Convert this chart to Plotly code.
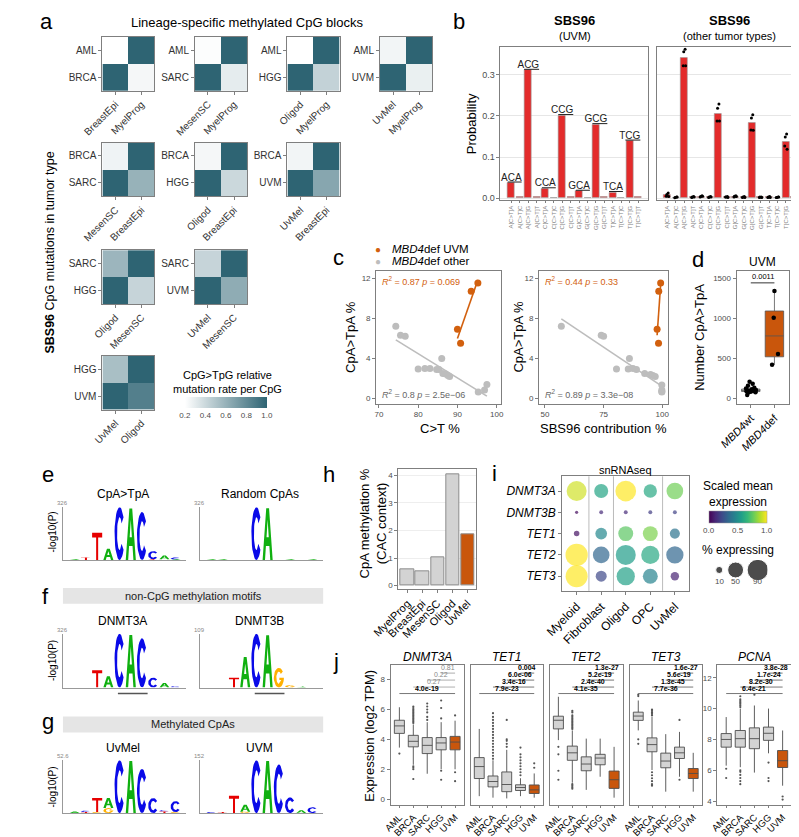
import numpy as np
import plotly.graph_objects as go

W, H = 799, 837
FONT = "Liberation Sans, Arial, Helvetica, sans-serif"
ORANGE = "#C9560C"
ORANGE_PT = "#D2600E"
GRAYPT = "#BDBDBD"
RED = "#E32B2B"
BOXGRAY = "#D3D3D3"
FRAME = "#7F7F7F"
TICKC = "#4D4D4D"

# ---------------- DATA ----------------
# panel a: 2x2 heatmaps (rows top->bottom, cols left->right)
HM_ROWS = [["AML", "BRCA"], ["AML", "SARC"], ["AML", "HGG"], ["AML", "UVM"],
           ["BRCA", "SARC"], ["BRCA", "HGG"], ["BRCA", "UVM"],
           ["SARC", "HGG"], ["SARC", "UVM"], ["HGG", "UVM"]]
HM_COLS = [["BreastEpi", "MyelProg"], ["MesenSC", "MyelProg"], ["Oligod", "MyelProg"], ["UvMel", "MyelProg"],
           ["MesenSC", "BreastEpi"], ["Oligod", "BreastEpi"], ["UvMel", "BreastEpi"],
           ["Oligod", "MesenSC"], ["UvMel", "MesenSC"], ["UvMel", "Oligod"]]
HM_VALS = [[[0.20, 1.0], [1.0, 0.24]], [[0.21, 1.0], [1.0, 0.30]], [[0.20, 1.0], [1.0, 0.43]],
           [[0.25, 1.0], [1.0, 0.28]], [[0.26, 1.0], [1.0, 0.60]], [[0.24, 1.0], [1.0, 0.40]],
           [[0.25, 1.0], [1.0, 0.66]], [[0.58, 1.0], [1.0, 0.42]], [[0.42, 1.0], [1.0, 0.63]],
           [[0.53, 1.0], [1.0, 0.86]]]
HM_TICKS = [0.2, 0.4, 0.6, 0.8, 1.0]

# panel b
CTX = ["A[C>T]A", "A[C>T]C", "A[C>T]G", "A[C>T]T", "C[C>T]A", "C[C>T]C", "C[C>T]G", "C[C>T]T",
       "G[C>T]A", "G[C>T]C", "G[C>T]G", "G[C>T]T", "T[C>T]A", "T[C>T]C", "T[C>T]G", "T[C>T]T"]
UVM_PROB = [0.037, 0.003, 0.311, 0.003, 0.023, 0.002, 0.201, 0.004,
            0.017, 0.002, 0.179, 0.003, 0.014, 0.002, 0.139, 0.004]
BAR_LABELS = {0: "A<u>CA</u>", 2: "A<u>CG</u>", 4: "C<u>CA</u>", 6: "C<u>CG</u>",
              8: "G<u>CA</u>", 10: "G<u>CG</u>", 12: "T<u>CA</u>", 14: "T<u>CG</u>"}
OTH_PROB = [0.009, 0.002, 0.341, 0.003, 0.004, 0.003, 0.205, 0.003,
            0.004, 0.003, 0.183, 0.003, 0.003, 0.002, 0.137, 0.003]
OTH_PTS = [[0.013, 0.009, 0.005, 0.004], [0.003, 0.002, 0.001, 0.003], [0.362, 0.356, 0.322, 0.322],
           [0.004, 0.003, 0.002, 0.003], [0.006, 0.004, 0.003, 0.005], [0.004, 0.003, 0.002, 0.003],
           [0.229, 0.219, 0.188, 0.188], [0.004, 0.003, 0.003, 0.002], [0.006, 0.005, 0.003, 0.004],
           [0.004, 0.003, 0.002, 0.002], [0.203, 0.195, 0.166, 0.165], [0.003, 0.003, 0.002, 0.002],
           [0.004, 0.003, 0.002, 0.002], [0.003, 0.002, 0.002, 0.003], [0.156, 0.149, 0.127, 0.119],
           [0.003, 0.003, 0.002, 0.002]]
JIT = [0.08, -0.08, -0.14, 0.14]

# panel c
C_UVM_CT = [90.0, 90.8, 93.5, 95.2]
C_UVM_CPA = [6.9, 5.5, 10.7, 11.5]
C_OTH_CT = [74.3, 75.5, 76.7, 80.0, 81.7, 83.0, 84.7, 85.3, 86.0, 86.3, 87.0, 87.6, 88.0, 95.3, 96.9, 97.5]
C_OTH_CPA = [7.2, 6.3, 6.2, 2.95, 3.0, 3.0, 2.9, 2.9, 4.0, 2.5, 2.45, 2.3, 2.2, 0.65, 0.85, 1.4]
C_UVM_SBS = [97.8, 98.4, 98.5, 99.3]
C_OTH_SBS = [57.0, 74.0, 75.0, 80.5, 85.5, 86.0, 87.5, 89.0, 92.5, 95.0, 96.0, 97.0, 99.8, 99.8, 99.8, 99.8]
C_OTH_CPA2 = [7.2, 6.3, 6.2, 2.95, 2.95, 4.0, 3.0, 2.9, 2.5, 2.4, 2.3, 2.2, 1.35, 0.85, 0.7, 0.65]
C_STATS_L = ["<i>R</i><sup>2</sup> = 0.87 <i>p</i> = 0.069", "<i>R</i><sup>2</sup> = 0.8 <i>p</i> = 2.5e\u221206"]
C_STATS_R = ["<i>R</i><sup>2</sup> = 0.44 <i>p</i> = 0.33", "<i>R</i><sup>2</sup> = 0.89 <i>p</i> = 3.3e\u221208"]

# panel d
D_GROUPS = ["<i>MBD4</i>wt", "<i>MBD4</i>def"]
D_BOX = [[75, 88, 100, 118, 150], [420, 520, 780, 1090, 1340]]  # lower, q1, med, q3, upper
D_WT_PTS = [210, 185, 160, 135, 125, 115, 108, 100, 95, 90, 85, 80, 75, 45]
D_WT_OFF = [-0.05, 0.08, -0.12, 0.15, -0.2, 0.05, 0.22, -0.08, 0.12, -0.18, 0.0, 0.2, -0.1, -0.15]
D_DEF_PTS = [420, 555, 1005, 1340]
D_DEF_OFF = [-0.1, 0.15, -0.03, 0.0]
D_P = "0.0011"

# panels e-g: sequence logos  (position, letter, height) stacked bottom->top
LOGO_TITLES = ["CpA>TpA", "Random CpAs", "DNMT3A", "DNMT3B", "UvMel", "UVM"]
LOGO_YMAX = [326, 326, 326, 109, 52.6, 152]
LOGO_YLBL = ["326", "326", "326", "109", "52.6", "152"]
LOGO_LETTERS = [
    [(2, "A", 5), (3, "T", 16), (4, "T", 168), (5, "A", 70), (6, "C", 326), (7, "A", 318), (8, "C", 296),
     (9, "T", 5), (9, "C", 50), (10, "T", 4), (10, "A", 24), (11, "A", 4), (11, "C", 12)],
    [(2, "A", 5), (3, "A", 5), (6, "C", 326), (7, "A", 320), (9, "A", 5), (11, "A", 4)],
    [(4, "T", 105), (5, "A", 68), (6, "C", 326), (7, "A", 318), (8, "C", 298), (9, "C", 60), (10, "A", 28), (11, "C", 8)],
    [(4, "T", 20), (5, "A", 62), (6, "C", 109), (7, "A", 106), (8, "G", 40), (9, "G", 5), (10, "A", 2)],
    [(2, "A", 1.5), (3, "T", 1), (3, "C", 1.5), (4, "G", 1), (4, "T", 14), (5, "G", 5), (5, "A", 10),
     (6, "C", 52.6), (7, "A", 52), (8, "C", 44), (9, "C", 15), (10, "T", 1.5), (10, "C", 1.5), (11, "G", 1), (11, "C", 11)],
    [(2, "C", 3), (3, "T", 3), (4, "T", 50), (5, "G", 4), (5, "A", 20), (6, "C", 152), (7, "A", 150),
     (8, "C", 140), (9, "C", 45), (10, "A", 8), (11, "C", 17)],
]
LETTER_COL = {"A": "#10B010", "C": "#0A0AE8", "G": "#FFB000", "T": "#E60000"}

# panel h
H_CELLS = ["MyelProg", "BreastEpi", "MesenSC", "Oligod", "UvMel"]
H_VALS = [0.6, 0.5, 1.02, 4.05, 1.85]

# panel i
I_CELLS = ["Myeloid", "Fibroblast", "Oligod", "OPC", "UvMel"]
I_GENES = ["DNMT3A", "DNMT3B", "TET1", "TET2", "TET3"]
I_EXPR = [[0.93, 0.58, 1.0, 0.6, 0.78], [0.03, 0.12, 0.12, 0.18, 0.2], [0.05, 0.47, 0.74, 0.8, 0.38],
          [1.0, 0.33, 0.55, 0.6, 0.33], [1.0, 0.22, 0.57, 0.45, 0.1]]
I_PCT = [[79, 39, 85, 35, 55], [2, 3, 3, 3, 3], [6, 27, 44, 44, 20], [98, 55, 79, 66, 59], [96, 24, 66, 44, 14]]
I_LEG_PCT = [10, 50, 90]

# panel j
J_GENES = ["DNMT3A", "TET1", "TET2", "TET3", "PCNA"]
J_GROUPS = ["AML", "BRCA", "SARC", "HGG", "UVM"]
# lowerfence, q1, median, q3, upperfence
J_STATS = [
    [[3.45, 4.4, 4.9, 5.28, 6.15], [2.3, 3.5, 3.87, 4.27, 5.0], [1.7, 3.05, 3.6, 4.12, 5.15], [2.0, 3.3, 3.76, 4.12, 5.15], [2.0, 3.3, 3.82, 4.2, 5.25]],
    [[0.2, 1.38, 2.18, 2.78, 4.7], [0.1, 0.82, 1.18, 1.55, 2.6], [0.05, 0.5, 0.98, 1.82, 3.3], [0.2, 0.58, 0.78, 0.96, 1.4], [0.1, 0.38, 0.62, 0.95, 1.72]],
    [[3.95, 4.7, 5.28, 5.55, 6.85], [1.1, 2.6, 3.1, 3.55, 4.6], [0.62, 1.9, 2.35, 2.83, 4.05], [1.5, 2.3, 2.75, 3.0, 4.05], [0.1, 0.72, 1.3, 1.88, 3.5]],
    [[4.6, 5.27, 5.56, 5.82, 6.6], [1.95, 3.17, 3.65, 4.1, 5.5], [0.5, 2.1, 2.55, 3.08, 4.35], [1.5, 2.72, 3.1, 3.48, 4.5], [0.5, 1.38, 1.72, 2.05, 3.1]],
    [[6.3, 7.5, 8.0, 8.38, 9.45], [6.2, 7.5, 8.05, 8.58, 10.0], [5.85, 7.4, 8.05, 8.75, 10.2], [7.1, 7.94, 8.4, 8.8, 10.0], [5.0, 6.18, 6.62, 7.28, 8.58]],
]
J_OUT = [
    [[3.05], [5.1, 5.2, 5.3, 5.4, 5.5, 5.6, 5.7, 5.8, 5.9, 6.0, 6.1, 6.2, 2.2, 2.1, 2.0, 1.35], [5.3, 5.5, 5.8, 6.0, 6.2, 6.4], [5.4, 6.1, 6.6, 1.9, 1.3], [5.6, 1.8, 1.2]],
    [[], [2.7, 2.9, 3.1, 3.3, 3.5, 3.7, 3.9, 4.1, 4.3, 4.5, 4.7, 4.9, 5.1, 5.3, 5.5, 5.75], [3.5, 3.7, 3.9, 4.0, 5.3], [1.6, 1.8, 2.0, 2.2, 2.4, 2.6, 2.8, 3.0, 3.45], [2.1, 2.4]],
    [[3.5, 3.0, 1.9, 1.3], [4.7, 4.8, 4.9, 5.0, 5.1, 5.2, 5.3, 5.4, 5.5, 5.6, 5.8, 5.9, 1.0, 0.9, 0.8, 0.7], [], [], []],
    [[6.9, 7.0, 4.0, 3.7], [5.6, 5.7, 5.8, 5.9, 6.0, 1.8, 1.6, 1.4, 1.2, 1.0, 0.9], [], [5.3, 1.3], []],
    [[6.1, 5.5], [10.1, 10.2, 10.3, 10.4, 10.5, 10.6, 10.8, 6.0, 5.9, 5.7, 5.5, 5.3, 5.1], [10.9], [6.5, 5.5, 5.3], [4.3, 4.1]],
]
J_PV = [["4.0e-19", "0.27", "0.22", "0.81"], ["7.9e-23", "3.4e-16", "6.0e-06", "0.004"],
        ["4.1e-35", "2.4e-40", "5.2e-19", "1.3e-27"], ["7.7e-36", "1.3e-45", "5.6e-19", "1.6e-27"],
        ["6.4e-21", "8.2e-30", "1.7e-24", "3.8e-28"]]
J_SIG = [[True, False, False, False]] + [[True] * 4] * 4

# ---------------- helpers ----------------
fig = go.Figure()
LAY = {}
ANN = []
SHP = []
NAX = [0]


def base_axis():
    return dict(showgrid=False, zeroline=False, showline=True, mirror=True,
                linecolor=FRAME, linewidth=1, ticks="outside", ticklen=3,
                tickcolor=FRAME, tickwidth=1,
                tickfont=dict(size=8, color=TICKC, family=FONT))


def axes(x0, x1, y0, y1, xa=None, ya=None):
    NAX[0] += 1
    s = "" if NAX[0] == 1 else str(NAX[0])
    bx = base_axis()
    bx.update(domain=[x0 / W, x1 / W], anchor="y" + s)
    by = base_axis()
    by.update(domain=[1 - y1 / H, 1 - y0 / H], anchor="x" + s)
    if xa:
        bx.update(xa)
    if ya:
        by.update(ya)
    LAY["xaxis" + s] = bx
    LAY["yaxis" + s] = by
    return "x" + s, "y" + s


def txt(x, y, s, size=10, color="black", xa="center", ya="middle", angle=0, xref="paper", yref="paper"):
    ANN.append(dict(x=x / W if xref == "paper" else x, y=1 - y / H if yref == "paper" else y,
                    xref=xref, yref=yref, text=s, showarrow=False,
                    font=dict(size=size, color=color, family=FONT),
                    xanchor=xa, yanchor=ya, textangle=angle))


def tf(size, color="black"):
    return dict(size=size, color=color, family=FONT)


# ---------------- panel a ----------------
txt(3, 14, "a", 22, xa="left")
txt(220, 15, "Lineage-specific methylated CpG blocks", 13)
txt(16, 245, "<b>SBS96</b> CpG mutations in tumor type", 12.5, angle=-90)
slots = [(70, 29), (166, 29), (262, 29), (358, 29), (70, 135), (166, 135), (262, 135), (70, 243), (166, 243), (70, 349)]
for k in range(10):
    x0, y0 = slots[k]
    xa_, ya_ = axes(x0, x0 + 54, y0, y0 + 54,
                    xa=dict(tickangle=-45, tickfont=tf(10, "#333")),
                    ya=dict(tickfont=tf(10, "#333")))
    top, bot = HM_ROWS[k]
    fig.add_trace(go.Heatmap(x=HM_COLS[k], y=[bot, top], z=[HM_VALS[k][1], HM_VALS[k][0]],
                             coloraxis="coloraxis", xaxis=xa_, yaxis=ya_, hoverinfo="skip"))
txt(200, 375, "CpG>TpG relative<br>mutation rate per CpG", 11)

# ---------------- panel b ----------------
txt(440, 14, "b", 22)
txt(560, 13, "<b>SBS96</b>", 13)
txt(560, 28, "(UVM)", 11)
txt(721, 13, "<b>SBS96</b>", 13)
txt(721, 28, "(other tumor types)", 11)
txt(453, 116, "Probability", 13, angle=-90)
bxa = dict(range=[-1.29, 16.14], tickvals=list(range(16)), ticktext=CTX, tickangle=-90,
           tickfont=tf(6, "#808080"), ticklen=2)
bya = dict(range=[-0.005, 0.368], tickvals=[0, 0.1, 0.2, 0.3], ticktext=["0.0", "0.1", "0.2", "0.3"],
           showgrid=True, gridcolor="#E6E6E6", gridwidth=0.8, tickfont=tf(9, TICKC))
xb1, yb1 = axes(483, 636, 39, 193, xa=dict(bxa), ya=dict(bya))
xb2, yb2 = axes(645, 798, 39, 193, xa=dict(bxa), ya=dict(bya, showticklabels=False, ticks=""))
fig.add_trace(go.Bar(x=list(range(16)), y=UVM_PROB, width=0.83, xaxis=xb1, yaxis=yb1,
                     marker=dict(color=RED, line=dict(color="#9A9A9A", width=0.6)), hoverinfo="skip"))
lab_idx = sorted(BAR_LABELS)
fig.add_trace(go.Scatter(x=lab_idx, y=[UVM_PROB[i] for i in lab_idx], mode="text",
                         text=[BAR_LABELS[i] for i in lab_idx], textposition="top center",
                         textfont=tf(10, "#222"), xaxis=xb1, yaxis=yb1, hoverinfo="skip", cliponaxis=False))
fig.add_trace(go.Bar(x=list(range(16)), y=OTH_PROB, width=0.83, xaxis=xb2, yaxis=yb2,
                     marker=dict(color=RED, line=dict(color="#9A9A9A", width=0.6)), hoverinfo="skip"))
px_, py_ = [], []
for i, pts in enumerate(OTH_PTS):
    for j, v in enumerate(pts):
        px_.append(i + JIT[j])
        py_.append(v)
fig.add_trace(go.Scatter(x=px_, y=py_, mode="markers", xaxis=xb2, yaxis=yb2,
                         marker=dict(size=3, color="black"), hoverinfo="skip", cliponaxis=False))

# ---------------- panel c ----------------
txt(315, 250, "c", 22)
txt(356, 242, "\u25CF", 10, color=ORANGE_PT)
txt(368, 242, "<i>MBD4</i>def UVM", 11.5, xa="left")
txt(356, 254, "\u25CF", 10, color=GRAYPT)
txt(368, 254, "<i>MBD4</i>def other", 11.5, xa="left")


def scatter_panel(x0, x1, xr, xt, ox, oy, ux, uy, stats):
    xa_, ya_ = axes(x0, x1, 264, 397, xa=dict(range=xr, tickvals=xt),
                    ya=dict(range=[-0.5, 12.7], tickvals=[0, 4, 8, 12]))
    for xs, ys, col in [(ox, oy, GRAYPT), (ux, uy, ORANGE_PT)]:
        sl, ic = np.polyfit(xs, ys, 1)
        lx = np.array([min(xs), max(xs)])
        fig.add_trace(go.Scatter(x=lx, y=sl * lx + ic, mode="lines", xaxis=xa_, yaxis=ya_,
                                 line=dict(color=col, width=1.6), hoverinfo="skip"))
        fig.add_trace(go.Scatter(x=xs, y=ys, mode="markers", xaxis=xa_, yaxis=ya_,
                                 marker=dict(size=7, color=col), hoverinfo="skip"))
    txt(x0 + 4, 274, stats[0], 9, color=ORANGE_PT, xa="left")
    txt(x0 + 4, 387, stats[1], 9, color="#666", xa="left")


scatter_panel(354, 484, [69.3, 101.2], [70, 80, 90, 100], C_OTH_CT, C_OTH_CPA, C_UVM_CT, C_UVM_CPA, C_STATS_L)
scatter_panel(523, 657, [47.5, 102.5], [50, 75, 100], C_OTH_SBS, C_OTH_CPA2, C_UVM_SBS, C_UVM_CPA, C_STATS_R)
txt(328, 330, "CpA>TpA %", 13, angle=-90)
txt(420, 422, "C>T %", 13)
txt(502, 330, "CpA>TpA %", 13, angle=-90)
txt(590, 422, "SBS96 contribution %", 13)

# ---------------- panel d ----------------
txt(688, 252, "d", 22)
txt(755, 255, "UVM", 12)
txt(690, 330, "Number CpA>TpA", 13, angle=-90)
xd, yd = axes(728, 782, 264, 397,
              xa=dict(range=[-0.6, 1.6], tickvals=[0, 1], ticktext=D_GROUPS, tickangle=-45, tickfont=tf(11)),
              ya=dict(range=[-62, 1587], tickvals=[0, 500, 1000, 1500]))
for i, st in enumerate(D_BOX):
    fig.add_trace(go.Box(x=[i], lowerfence=[st[0]], q1=[st[1]], median=[st[2]], q3=[st[3]], upperfence=[st[4]],
                         width=0.78, whiskerwidth=0, fillcolor=BOXGRAY if i == 0 else ORANGE,
                         line=dict(color="#555", width=0.8), xaxis=xd, yaxis=yd, hoverinfo="skip"))
fig.add_trace(go.Scatter(x=[o for o in D_WT_OFF] + [1 + o for o in D_DEF_OFF], y=D_WT_PTS + D_DEF_PTS,
                         mode="markers", marker=dict(size=4.5, color="black"), xaxis=xd, yaxis=yd, hoverinfo="skip"))
SHP.append(dict(type="line", xref=xd, yref=yd, x0=0, x1=1, y0=1440, y1=1440, line=dict(color="black", width=0.8)))
ANN.append(dict(x=0.5, y=1440, xref=xd, yref=yd, text=D_P, showarrow=False, yanchor="bottom",
                font=tf(7.5), yshift=0))


# ---------------- panels e-g (logos) ----------------
def arc(cx, cy, rx, ry, a0, a1, n=28):
    t = np.radians(np.linspace(a0, a1, n))
    return [(cx + rx * np.cos(a), cy + ry * np.sin(a)) for a in t]


def glyph(letter):
    if letter == "T":
        return [(0, 1), (1, 1), (1, 0.83), (0.6, 0.83), (0.6, 0), (0.4, 0), (0.4, 0.83), (0, 0.83), (0, 1)]
    if letter == "A":
        return [(0, 0), (0.36, 1), (0.64, 1), (1, 0), (0.76, 0), (0.67, 0.27), (0.33, 0.27), (0.24, 0), (0, 0),
                (0.39, 0.44), (0.61, 0.44), (0.5, 0.78), (0.39, 0.44), (0, 0)]
    if letter == "C":
        return arc(0.5, 0.5, 0.5, 0.5, 38, 322) + arc(0.5, 0.5, 0.25, 0.31, 322, 38)
    # G
    return (arc(0.5, 0.5, 0.5, 0.5, 38, 360) + [(0.55, 0.5), (0.55, 0.38), (0.74, 0.38)]
            + arc(0.5, 0.5, 0.25, 0.31, 335, 38))


txt(5, 468, "e", 22, xa="left")
txt(5, 591, "f", 22, xa="left")
txt(5, 716, "g", 22, xa="left")
SHP.append(dict(type="rect", xref="paper", yref="paper", x0=29 / W, x1=299 / W, y0=1 - 598 / H, y1=1 - 582 / H,
                fillcolor="#E5E5E5", line=dict(width=0), layer="below"))
SHP.append(dict(type="rect", xref="paper", yref="paper", x0=29 / W, x1=299 / W, y0=1 - 727 / H, y1=1 - 711 / H,
                fillcolor="#E5E5E5", line=dict(width=0), layer="below"))
txt(164, 590, "non-CpG methylation motifs", 11, color="#222")
txt(164, 719, "Methylated CpAs", 11, color="#222")
logo_slots = [(29, 157, 501, 554), (171, 299, 501, 554), (29, 157, 628, 682), (171, 299, 628, 682),
              (29, 157, 755, 808), (171, 299, 755, 808)]
title_y = [488, 488, 615, 615, 743, 743]
for k in range(6):
    x0, x1, y0, y1 = logo_slots[k]
    xl, yl = axes(x0, x1, y0, y1,
                  xa=dict(range=[0.95, 11.95], mirror=False, ticks="", showticklabels=False, linecolor="#999"),
                  ya=dict(range=[0, LOGO_YMAX[k]], mirror=False, ticks="", showticklabels=False, linecolor="#999"))
    stack = {}
    paths = {c: ([], []) for c in "ACGT"}
    for pos, let, h in LOGO_LETTERS[k]:
        b = stack.get(pos, 0.0)
        for u, v in glyph(let):
            paths[let][0].append(pos - 0.45 + 0.9 * u)
            paths[let][1].append(b + h * v)
        paths[let][0].append(None)
        paths[let][1].append(None)
        stack[pos] = b + h
    for let in "ACGT":
        if paths[let][0]:
            fig.add_trace(go.Scatter(x=paths[let][0], y=paths[let][1], mode="lines", fill="toself",
                                     fillcolor=LETTER_COL[let], line=dict(width=0, color=LETTER_COL[let]),
                                     xaxis=xl, yaxis=yl, hoverinfo="skip", connectgaps=False))
    txt((x0 + x1) / 2 - 2, title_y[k], LOGO_TITLES[k], 12)
    txt(x0, y0 - 4, LOGO_YLBL[k], 6, color="#888")
    if k in (2, 3):
        SHP.append(dict(type="line", xref=xl, yref="paper", x0=5.85, x1=8.5, y0=1 - 688 / H, y1=1 - 688 / H,
                        line=dict(color="#555", width=1.6)))
for yc in (526, 655, 782):
    txt(18, yc, "-log10(P)", 10, angle=-90)

# ---------------- panel h ----------------
txt(305, 468, "h", 22)
txt(351, 517, "CpA methylation %<br>(CAC context)", 13, angle=-90)
xh, yh = axes(377, 458, 463, 583,
              xa=dict(range=[-0.6, 4.6], tickvals=list(range(5)), ticktext=H_CELLS, tickangle=-45, tickfont=tf(11)),
              ya=dict(range=[-0.12, 4.22], tickvals=[0, 1, 2, 3, 4], showgrid=True, gridcolor="#EEEEEE"))
fig.add_trace(go.Bar(x=list(range(5)), y=H_VALS, width=0.87, xaxis=xh, yaxis=yh,
                     marker=dict(color=[BOXGRAY] * 4 + [ORANGE], line=dict(color="#8C8C8C", width=1)),
                     hoverinfo="skip"))

# ---------------- panel i ----------------
txt(477, 467, "i", 22)
txt(613, 464, "snRNAseq", 11)
xi, yi = axes(547, 679, 470, 585,
              xa=dict(range=[-0.59, 4.59], tickvals=list(range(5)), ticktext=I_CELLS, tickangle=-45, tickfont=tf(12)),
              ya=dict(range=[4.69, -0.69], tickvals=list(range(5)), ticktext=["<i>%s</i>" % g for g in I_GENES],
                      tickfont=tf(12)))
for xs in (0.5, 1.5, 3.5):
    SHP.append(dict(type="line", xref=xi, yref=yi + " domain", x0=xs, x1=xs, y0=0, y1=1,
                    line=dict(color="#BBBBBB", width=1), layer="below"))
ix, iy, ic, isz = [], [], [], []
for r in range(5):
    for c in range(5):
        ix.append(c)
        iy.append(r)
        ic.append(I_EXPR[r][c])
        isz.append(2.25 * np.sqrt(I_PCT[r][c]))
fig.add_trace(go.Scatter(x=ix, y=iy, mode="markers", xaxis=xi, yaxis=yi, hoverinfo="skip",
                         marker=dict(size=isz, color=ic, coloraxis="coloraxis2", line=dict(width=0))))
txt(729, 488, "Scaled mean<br>expression", 12)
txt(729, 544, "% expressing", 12)
xil, yil = axes(700, 760, 554, 574, xa=dict(range=[0, 3], visible=False), ya=dict(range=[0, 1], visible=False))
leg_x = [0.5, 1.35, 2.5]
fig.add_trace(go.Scatter(x=leg_x, y=[0.5] * 3, mode="markers", xaxis=xil, yaxis=yil, hoverinfo="skip",
                         marker=dict(size=[2.25 * np.sqrt(p) for p in I_LEG_PCT], color="black")))
for xx, p in zip(leg_x, I_LEG_PCT):
    ANN.append(dict(x=xx, y=1 - 582 / H, xref=xil, yref="paper", text=str(p), showarrow=False,
                    font=tf(8, TICKC)))

# ---------------- panel j ----------------
txt(312, 656, "j", 22)
txt(347, 730, "Expression (log2 TPM)", 13, angle=-90)
j_x = [(369, 445), (452, 527), (534, 610), (617, 692), (708, 785)]
J_TOP, J_BOT = 659, 800
BRK_PY = [688, 681.5, 674.5, 667.5]
for g in range(5):
    x0, x1 = j_x[g]
    if g < 4:
        yr = [-0.4, 9.0]
        ya = dict(range=yr, tickvals=[0, 2, 4, 6, 8], showticklabels=(g == 0), ticks="outside" if g == 0 else "")
    else:
        yr = [3.74, 12.85]
        ya = dict(range=yr, tickvals=[4, 6, 8, 10, 12])
    xj, yj = axes(x0, x1, J_TOP, J_BOT,
                  xa=dict(range=[-0.63, 4.63], tickvals=list(range(5)), ticktext=J_GROUPS, tickangle=-45,
                          tickfont=tf(9.5), ticklen=2),
                  ya=ya)
    txt((x0 + x1) / 2, 651, "<i>%s</i>" % J_GENES[g], 12)
    for i in range(5):
        st = J_STATS[g][i]
        fig.add_trace(go.Box(x=[i], lowerfence=[st[0]], q1=[st[1]], median=[st[2]], q3=[st[3]],
                             upperfence=[st[4]], width=0.72, whiskerwidth=0,
                             fillcolor=BOXGRAY if i < 4 else ORANGE, line=dict(color="#4D4D4D", width=0.9),
                             xaxis=xj, yaxis=yj, hoverinfo="skip"))
        if J_OUT[g][i]:
            fig.add_trace(go.Scatter(x=[i] * len(J_OUT[g][i]), y=J_OUT[g][i], mode="markers",
                                     marker=dict(size=2.2, color="#555"), xaxis=xj, yaxis=yj, hoverinfo="skip"))
    for c in range(4):
        yy = 1 - BRK_PY[c] / H
        SHP.append(dict(type="line", xref=xj, yref="paper", x0=c, x1=4, y0=yy, y1=yy,
                        line=dict(color="#555" if J_SIG[g][c] else "#999", width=0.8)))
        lab = "<b>%s</b>" % J_PV[g][c] if J_SIG[g][c] else J_PV[g][c]
        ANN.append(dict(x=(c + 4) / 2, y=yy, xref=xj, yref="paper", text=lab, showarrow=False,
                        yanchor="bottom", font=tf(7, "black" if J_SIG[g][c] else "#888")))

# ---------------- layout ----------------
LAY.update(dict(
    width=W, height=H, margin=dict(l=0, r=0, t=0, b=0), showlegend=False,
    paper_bgcolor="white", plot_bgcolor="white", font=dict(family=FONT, color="black"),
    annotations=ANN, shapes=SHP, bargap=0,
    coloraxis=dict(cmin=0.2, cmax=1.0, colorscale=[[0, "#FFFFFF"], [1, "#2E6473"]],
                   colorbar=dict(orientation="h", x=198 / W, xanchor="center", y=1 - 390 / H, yanchor="top",
                                 len=82, lenmode="pixels", thickness=11, thicknessmode="pixels",
                                 outlinewidth=0, tickvals=HM_TICKS, ticktext=["%.1f" % t for t in HM_TICKS],
                                 ticks="", tickfont=tf(8, TICKC), xpad=0, ypad=0)),
    coloraxis2=dict(cmin=0, cmax=1, colorscale="Viridis",
                    colorbar=dict(orientation="h", x=729 / W, xanchor="center", y=1 - 505 / H, yanchor="top",
                                  len=58, lenmode="pixels", thickness=12, thicknessmode="pixels",
                                  outlinewidth=0.5, outlinecolor="#999", tickvals=[0, 0.5, 1],
                                  ticktext=["0.0", "0.5", "1.0"], ticks="", tickfont=tf(8, TICKC), xpad=0, ypad=0)),
))
fig.update_layout(LAY)
fig.write_html("out.html")
